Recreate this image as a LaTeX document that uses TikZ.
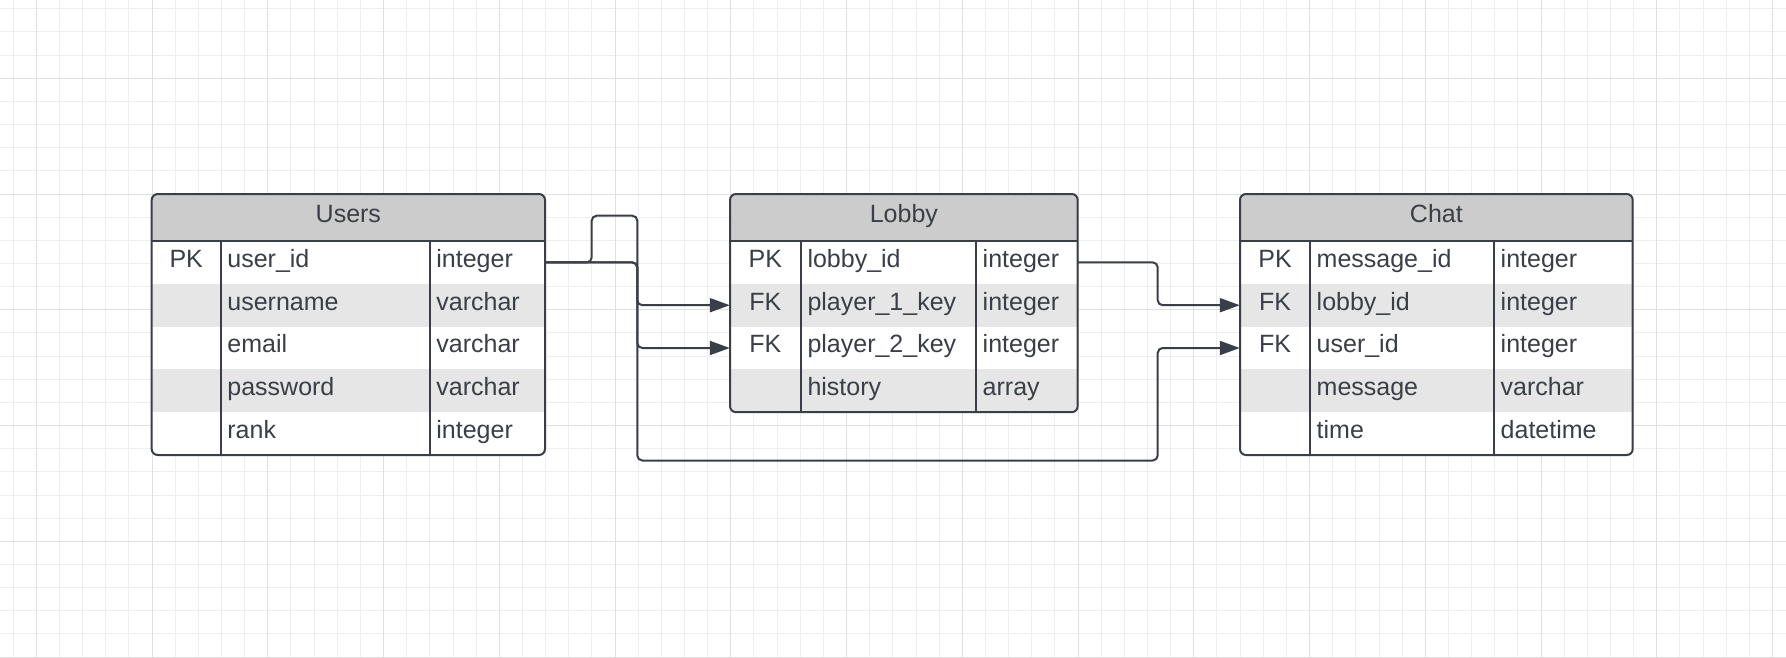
\documentclass[tikz,border=0pt]{standalone}
\usepackage{fontspec}
\setmainfont{Liberation Sans}
\usetikzlibrary{arrows.meta}
\definecolor{ink}{HTML}{3A3F47}
\definecolor{headfill}{HTML}{CCCCCC}
\definecolor{rowshade}{HTML}{E6E6E6}
\definecolor{gridminor}{HTML}{EEEEEE}
\definecolor{gridmajor}{HTML}{E0E0E0}
\tikzset{
  txt/.style={font=\fontsize{25}{30}\selectfont, text=ink, inner sep=0pt},
  rowbox/.style={inner sep=0pt, minimum height=42.8pt},
  edge/.style={draw=ink, line width=2pt},
  conn/.style={draw=ink, line width=2pt, rounded corners=5pt},
  arr/.style={-{Triangle[length=20pt,width=14pt]}},
}
% #1 name, #2 left, #3 right, #4 div1, #5 div2, #6 nrows, #7 title, #8 rows
\newcommand\ERtable[8]{%
  \pgfmathsetmacro\ERbot{241+42.8*#6}%
  \pgfmathsetmacro\ERw{#3-#2}%
  \fill[white,rounded corners=6pt] (#2,194) rectangle (#3,\ERbot);
  \begin{scope}
    \clip[rounded corners=6pt] (#2,194) rectangle (#3,\ERbot);
    \fill[headfill] (#2,194) rectangle (#3,241);
    \fill[rowshade] (#2,{241+42.8}) rectangle (#3,{241+2*42.8});
    \fill[rowshade] (#2,{241+3*42.8}) rectangle (#3,{241+4*42.8});
  \end{scope}
  \node[txt, anchor=base] (#1-title) at ({(#2+#3)/2},222.7) {#7};
  \foreach \k/\f/\t [count=\i] in {#8} {
    \pgfmathsetmacro\ERy{241+42.8*(\i-1)}
    \node[rowbox, minimum width=\ERw pt] (#1-r\i) at ({(#2+#3)/2},{\ERy+21.4}) {};
    \node[txt, anchor=base] (#1-k\i) at ({(#2+#4)/2},{\ERy+26.3}) {\k};
    \node[txt, anchor=base west] (#1-f\i) at ({#4+6.5},{\ERy+26.3}) {\f};
    \node[txt, anchor=base west] (#1-t\i) at ({#5+6.5},{\ERy+26.3}) {\t};
  }
  \draw[edge] (#2,241) -- (#3,241);
  \draw[edge] (#4,241) -- (#4,\ERbot);
  \draw[edge] (#5,241) -- (#5,\ERbot);
  \draw[edge, rounded corners=6pt] (#2,194) rectangle (#3,\ERbot);
}
\begin{document}
\begin{tikzpicture}[x=1pt,y=-1pt]
\useasboundingbox (0,0) rectangle (1786,658);
\fill[white] (0,0) rectangle (1786,658);
% grid
\foreach \i in {0,...,77} \draw[gridminor, line width=1pt] ({13.15+23.15*\i},0) -- ({13.15+23.15*\i},658);
\foreach \i in {0,...,28} \draw[gridminor, line width=1pt] (0,{8.85+23.15*\i}) -- (1786,{8.85+23.15*\i});
\foreach \i in {0,...,15} \draw[gridmajor, line width=1pt] ({36.3+115.75*\i},0) -- ({36.3+115.75*\i},658);
\foreach \i in {0,...,5} \draw[gridmajor, line width=1pt] (0,{78.3+115.75*\i}) -- (1786,{78.3+115.75*\i});

\ERtable{users}{151.7}{545}{220.7}{429.7}{5}{Users}{PK/user\_id/integer, /username/varchar, /email/varchar, /password/varchar, /rank/integer}
\ERtable{lobby}{730}{1077.7}{800.8}{976}{4}{Lobby}{PK/lobby\_id/integer, FK/player\_1\_key/integer, FK/player\_2\_key/integer, /history/array}
\ERtable{chat}{1240}{1632.7}{1310}{1494}{5}{Chat}{PK/message\_id/integer, FK/lobby\_id/integer, FK/user\_id/integer, /message/varchar, /time/datetime}

% connectors
\draw[conn, arr] (users-r1.east) -- (637.3,262.4) |- (lobby-r2.west);
\draw[conn, arr] (users-r1.east) -- (591.7,262.4) -- (591.7,215.7) -- (637.3,215.7) |- (lobby-r3.west);
\draw[conn, arr] (users-r1.east) -- (637.3,262.4) -- (637.3,460.5) -| (1157.7,348) -- (chat-r3.west);
\draw[conn, arr] (lobby-r1.east) -- (1157.7,262.4) |- (chat-r2.west);
\end{tikzpicture}
\end{document}
